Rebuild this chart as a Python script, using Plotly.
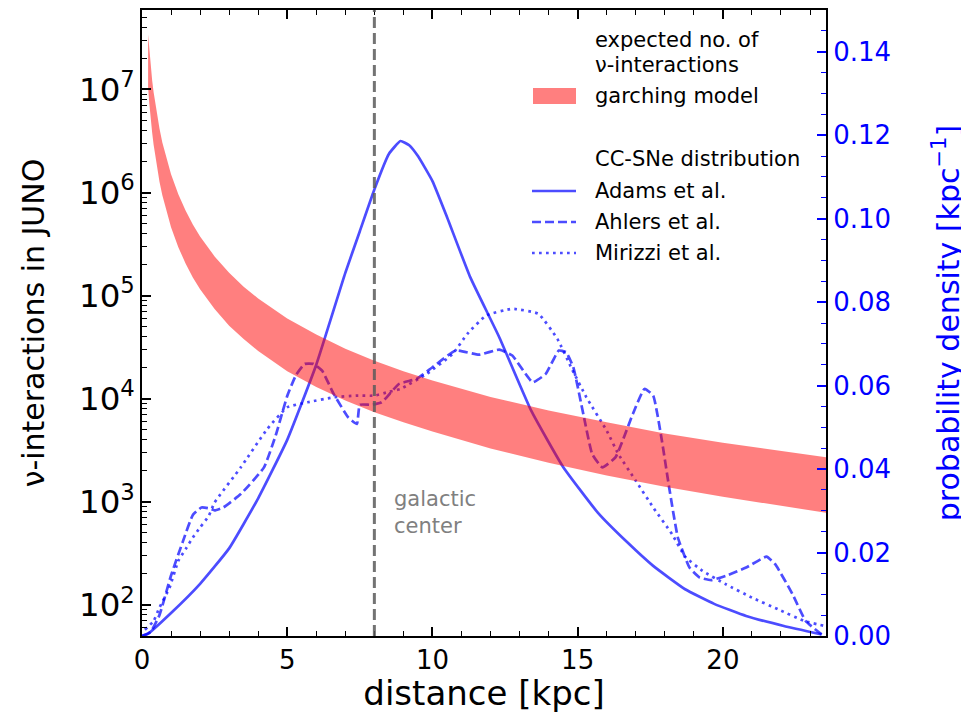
import plotly.graph_objects as go

# ---------------- data ----------------
# garching model band: expected number of nu-interactions vs distance [kpc]
band_d = [0.21, 0.25, 0.3, 0.35, 0.4, 0.5, 0.6, 0.7, 0.85, 1.0, 1.25, 1.5, 1.75, 2.0,
          2.5, 3.0, 3.5, 4.0, 5.0, 6.0, 7.0, 8.0, 9.0, 10.0, 12.0, 14.0, 16.0, 18.0,
          20.0, 22.0, 23.6]
band_upper = [3.4e7, 2.4e7, 1.67e7, 1.22e7, 9.4e6, 6.0e6, 4.2e6, 3.06e6, 2.08e6, 1.5e6,
              9.6e5, 6.7e5, 4.9e5, 3.75e5, 2.4e5, 1.67e5, 1.22e5, 9.4e4, 6.0e4, 4.2e4,
              3.06e4, 2.34e4, 1.85e4, 1.5e4, 1.04e4, 7.7e3, 5.9e3, 4.6e3, 3.75e3,
              3.1e3, 2.7e3]
band_lower = [1.05e7, 7.4e6, 5.1e6, 3.8e6, 2.9e6, 1.85e6, 1.28e6, 9.4e5, 6.4e5, 4.6e5,
              2.95e5, 2.05e5, 1.5e5, 1.15e5, 7.4e4, 5.1e4, 3.8e4, 2.9e4, 1.85e4, 1.3e4,
              9.6e3, 7.4e3, 5.9e3, 4.8e3, 3.3e3, 2.4e3, 1.8e3, 1.4e3, 1.12e3, 9.1e2, 7.8e2]

# CC-SNe distributions: probability density [kpc^-1]
adams_d = [0, 0.2, 1.0, 2.0, 3.0, 4.0, 5.0, 6.0, 7.0, 7.5, 8.0, 8.5, 8.9, 9.2, 9.5,
           10.0, 10.5, 11.3, 12.3, 13.4, 14.5, 15.7, 16.7, 17.6, 18.7, 19.7, 20.8,
           22.1, 23.4]
adams_p = [0, 0.0005, 0.0055, 0.0125, 0.021, 0.033, 0.047, 0.065, 0.087, 0.097, 0.107,
           0.1155, 0.1186, 0.1176, 0.115, 0.109, 0.1004, 0.086, 0.0716, 0.054, 0.0405,
           0.0295, 0.0225, 0.0168, 0.0112, 0.0077, 0.0048, 0.0024, 0.0004]

ahlers_d = [0, 0.3, 0.6, 1.0, 1.4, 1.75, 2.05, 2.3, 2.5, 2.8, 3.4, 4.2, 4.6, 5.0, 5.3,
            5.6, 5.9, 6.2, 6.6, 7.1, 7.4, 7.5, 7.9, 8.25, 8.85, 9.45, 10.0, 10.8, 11.6,
            12.3, 12.75, 13.45, 13.9, 14.35, 14.6, 14.85, 15.2, 15.5, 15.85, 16.3, 16.9,
            17.3, 17.6, 17.9, 18.15, 18.45, 18.85, 19.2, 19.6, 20.1, 20.8, 21.5, 21.8,
            22.4, 22.85, 23.4]
ahlers_p = [0, 0.001, 0.005, 0.0145, 0.0225, 0.029, 0.0308, 0.0306, 0.0301, 0.0308,
            0.034, 0.0404, 0.048, 0.0575, 0.0625, 0.0652, 0.0652, 0.0636, 0.058, 0.0524,
            0.0508, 0.0554, 0.0554, 0.056, 0.0604, 0.0616, 0.0644, 0.0684, 0.0674,
            0.0686, 0.0672, 0.0608, 0.0628, 0.0684, 0.068, 0.0644, 0.053, 0.0436,
            0.0404, 0.0428, 0.0532, 0.0592, 0.0576, 0.0468, 0.0356, 0.0236, 0.0164,
            0.014, 0.0134, 0.0144, 0.0164, 0.019, 0.0172, 0.010, 0.0036, 0.0004]

mirizzi_d = [0.1, 0.4, 0.6, 0.95, 1.25, 1.5, 1.75, 2.0, 2.3, 2.5, 3.4, 4.3, 5.0, 5.7,
             6.6, 7.4, 8.0, 8.5, 8.9, 9.8, 10.7, 11.2, 11.85, 12.75, 13.65, 14.3, 14.8,
             15.3, 16.0, 16.4, 17.0, 17.6, 18.25, 18.7, 19.3, 20.1, 21.0, 21.9, 22.8, 23.5]
mirizzi_p = [0.0015, 0.0036, 0.0068, 0.0116, 0.018, 0.0208, 0.0236, 0.026, 0.0288,
             0.032, 0.0404, 0.0495, 0.0548, 0.056, 0.0572, 0.0576, 0.0576, 0.0585,
             0.0592, 0.0628, 0.0676, 0.0724, 0.0768, 0.0784, 0.0772, 0.0712, 0.064,
             0.0572, 0.0492, 0.0436, 0.0372, 0.0308, 0.0244, 0.019, 0.0156, 0.0124,
             0.0092, 0.0064, 0.0036, 0.0024]

GALACTIC_CENTER = 8.0

# ---------------- styling ----------------
FONT = "DejaVu Sans"
BLUE_LINE = "rgba(0,0,255,0.7)"
BAND = "rgba(255,0,0,0.5)"
OFF = 8                      # page body margin of the html page
W, H = 969 - OFF, 713 - OFF
# plot area in screen pixels
L, R, T, B = 142, 826, 10, 636


def px(x):
    return (x - L) / (R - L)


def py(y):
    return (B - y) / (B - T)


fig = go.Figure()

# probability density curves (primary y: linear, right side)
fig.add_trace(go.Scatter(x=adams_d, y=adams_p, mode="lines", name="Adams et al.",
                         line=dict(color=BLUE_LINE, width=2.7, shape="spline", smoothing=0.4),
                         yaxis="y", showlegend=False))
fig.add_trace(go.Scatter(x=ahlers_d, y=ahlers_p, mode="lines", name="Ahlers et al.",
                         line=dict(color=BLUE_LINE, width=2.7, dash="9px,4px",
                                   shape="spline", smoothing=0.4),
                         yaxis="y", showlegend=False))
fig.add_trace(go.Scatter(x=mirizzi_d, y=mirizzi_p, mode="lines", name="Mirizzi et al.",
                         line=dict(color=BLUE_LINE, width=2.7, dash="2.7px,4.3px",
                                   shape="spline", smoothing=0.4),
                         yaxis="y", showlegend=False))

# garching band (y2: log, left side, drawn on top)
fig.add_trace(go.Scatter(x=band_d + band_d[::-1], y=band_upper + band_lower[::-1],
                         mode="lines", fill="toself", fillcolor=BAND,
                         line=dict(width=0, color=BAND), name="garching model",
                         yaxis="y2", showlegend=False, hoverinfo="skip"))

# galactic center line
fig.add_shape(type="line", xref="x", yref="paper", x0=GALACTIC_CENTER, x1=GALACTIC_CENTER,
              y0=0, y1=1, line=dict(color="rgba(90,90,90,0.85)", width=3, dash="11px,5px"),
              layer="above")
fig.add_annotation(x=GALACTIC_CENTER + 0.6, y=py(512), xref="x", yref="paper",
                   text="galactic<br>center", showarrow=False, xanchor="left",
                   yanchor="middle", align="left",
                   font=dict(family=FONT, size=21, color="rgb(128,128,128)"))

# manual legend
leg_text = [("expected no. of", 40), ("ν-interactions", 65), ("garching model", 96),
            ("CC-SNe distribution", 159), ("Adams et al.", 191), ("Ahlers et al.", 222),
            ("Mirizzi et al.", 253)]
for txt, yy in leg_text:
    fig.add_annotation(x=px(593), y=py(yy), xref="paper", yref="paper", text=txt,
                       showarrow=False, xanchor="left", yanchor="middle",
                       font=dict(family=FONT, size=21, color="black"))
fig.add_shape(type="rect", xref="paper", yref="paper", x0=px(533), x1=px(576),
              y0=py(104), y1=py(88), fillcolor=BAND, line=dict(width=0))
for yy, dash in [(191, "solid"), (222, "9px,4px"), (253, "2.7px,4.3px")]:
    fig.add_shape(type="line", xref="paper", yref="paper", x0=px(532), x1=px(576),
                  y0=py(yy), y1=py(yy), line=dict(color=BLUE_LINE, width=2.7, dash=dash))

fig.update_layout(
    width=W, height=H,
    margin=dict(l=L - OFF, r=W - (R - OFF), t=T - OFF, b=H - (B - OFF), pad=0,
                autoexpand=False),
    paper_bgcolor="white", plot_bgcolor="white",
    font=dict(family=FONT, size=26, color="black"),
    showlegend=False,
    xaxis=dict(range=[0, 23.55], automargin=False, showgrid=False, zeroline=False,
               showline=True, linecolor="black", linewidth=2, mirror="ticks",
               ticks="inside", ticklen=9, tickwidth=1.5, tickcolor="black", dtick=5,
               tickfont=dict(family=FONT, size=26, color="black"),
               minor=dict(dtick=1, ticks="inside", ticklen=5, tickwidth=1.2,
                          tickcolor="black"),
               title=dict(text="distance [kpc]", font=dict(family=FONT, size=34),
                          standoff=2)),
    yaxis=dict(range=[0, 0.15], side="right", automargin=False, showgrid=False,
               zeroline=False, showline=True, linecolor="black", linewidth=2,
               ticks="inside", ticklen=9, tickwidth=1.5, tickcolor="blue", dtick=0.02,
               tickformat=".2f", tickfont=dict(family=FONT, size=26, color="blue"),
               minor=dict(dtick=0.005, ticks="inside", ticklen=5, tickwidth=1.2,
                          tickcolor="blue"),
               title=dict(text="probability density [kpc<sup>−1</sup>]",
                          font=dict(family=FONT, size=30, color="blue"), standoff=48)),
    yaxis2=dict(type="log", range=[1.699, 7.77], overlaying="y", side="left",
                automargin=False, showgrid=False, zeroline=False, showline=True,
                linecolor="black", linewidth=2, ticks="inside", ticklen=9,
                tickwidth=1.5, tickcolor="black", dtick=1, exponentformat="power",
                tickfont=dict(family=FONT, size=26, color="black"),
                minor=dict(dtick="D1", ticks="inside", ticklen=5, tickwidth=1.2,
                           tickcolor="black"),
                title=dict(text="ν-interactions in JUNO",
                           font=dict(family=FONT, size=30, color="black"), standoff=25)),
)

fig.write_html("out.html")
